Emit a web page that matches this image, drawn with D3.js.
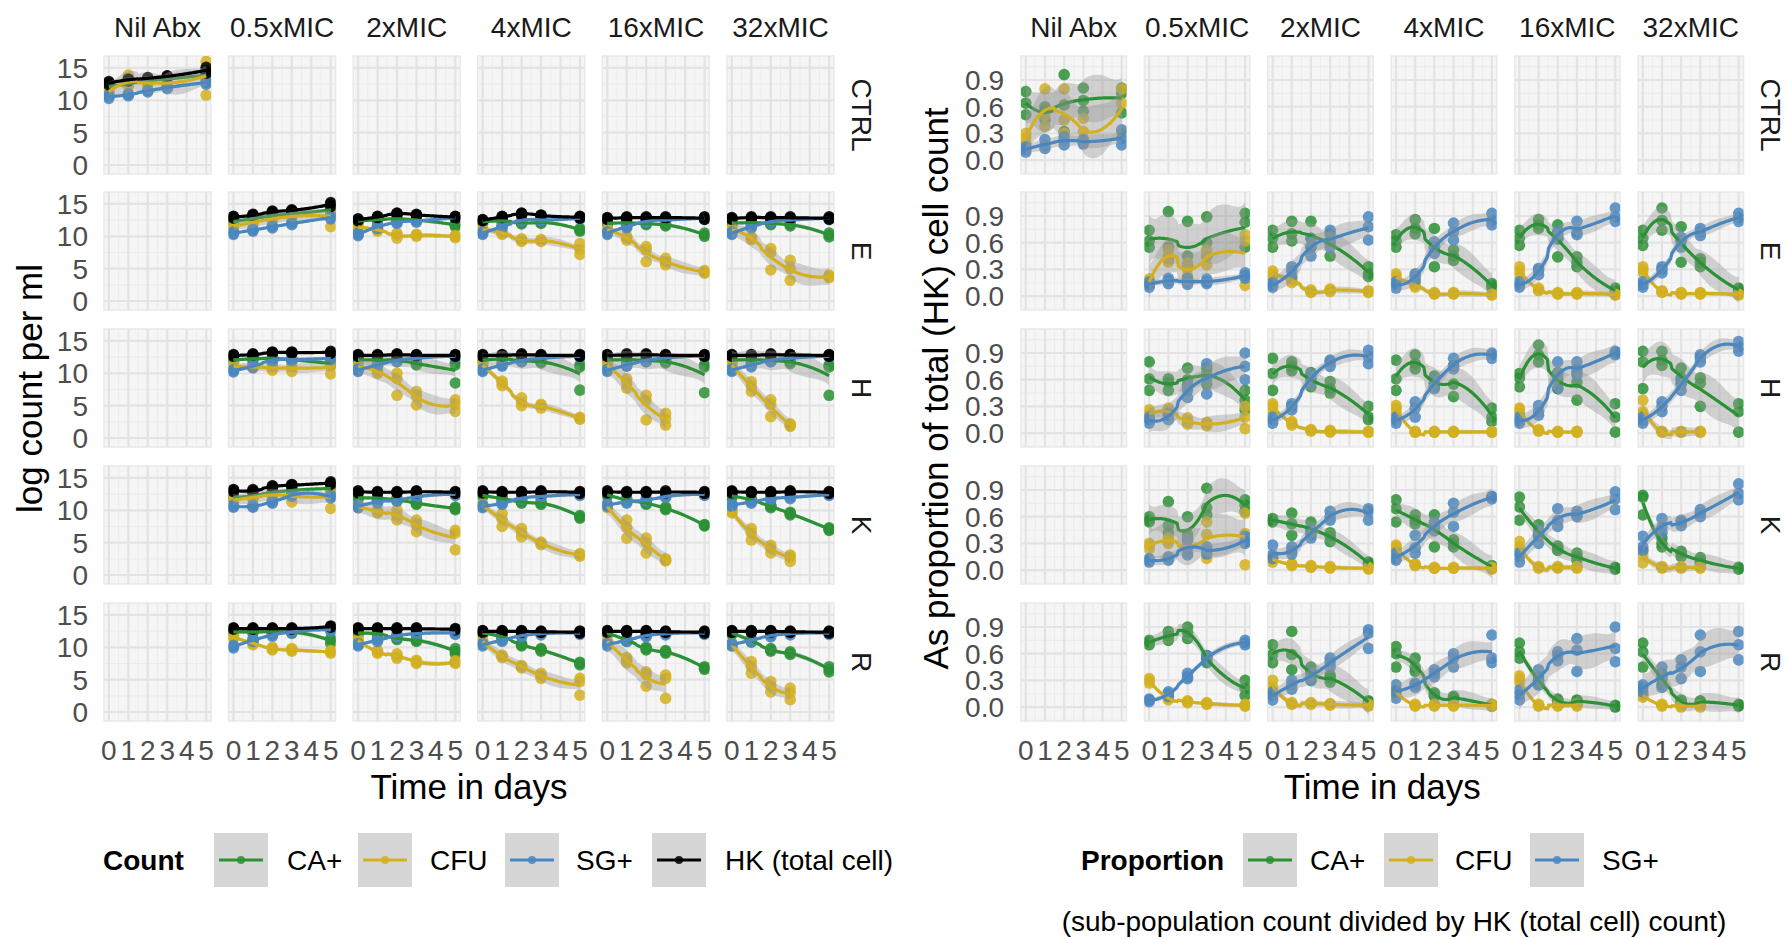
<!DOCTYPE html>
<html>
<head>
<meta charset="utf-8">
<script src="https://cdn.jsdelivr.net/npm/d3@7"></script>
<style>
  body { margin: 0; background: #ffffff; }
  text { font-family: "Liberation Sans", Arial, sans-serif; }
</style>
</head>
<body>
<svg id="chart" width="1788" height="939"></svg>
<script>
// ---------- categories and ticks ----------
const days = [0, 1, 2, 3, 5];
const doses = ["Nil Abx", "0.5xMIC", "2xMIC", "4xMIC", "16xMIC", "32xMIC"];
const strains = ["CTRL", "E", "H", "K", "R"];
const dayTicks = [0, 1, 2, 3, 4, 5];
const countTicks = [0, 5, 10, 15];
const propTicks = [0, 0.3, 0.6, 0.9];
const countKeys = ["CA+", "CFU", "SG+", "HK (total cell)"];
const propKeys = ["CA+", "CFU", "SG+"];

// ---------- log count per ml: per strain, per dose, replicate values per day (0,1,2,3,5) ----------
const countCA_CTRL = [[[11.8,12.1,12.3],[12.4,12.7,12.6],[12.9,13.1,13.0],[13.2,13.4,13.3],[13.6,13.9,14.1]], null, null, null, null, null];
const countCFU_CTRL = [[[11.0,11.4,11.6],[12.2,13.9,12.4],[12.6,12.9,12.5],[12.0,13.2,12.8],[10.8,14.5,16.0]], null, null, null, null, null];
const countSG_CTRL = [[[10.3,10.6,10.8],[10.7,10.9,11.0],[11.3,11.5,11.6],[11.8,12.0,12.1],[12.5,12.7,13.0]], null, null, null, null, null];
const countHK_CTRL = [[[12.4,12.7,12.9],[13.0,13.2,13.3],[13.3,13.5,13.4],[13.6,13.8,13.7],[14.2,14.6,15.1]], null, null, null, null, null];

const countCA_E = [null,
  [[12.0,12.3,12.5],[12.5,12.8,12.9],[13.0,13.2,13.3],[13.3,13.5,13.6],[13.8,14.1,14.3]],
  [[12.2,12.4,12.5],[12.4,12.6,12.7],[12.6,12.8,12.7],[12.4,12.6,12.5],[11.5,11.8,12.0]],
  [[12.0,12.3,12.4],[12.2,12.4,12.5],[11.9,12.1,12.2],[12.0,12.2,12.3],[10.8,11.0,11.2]],
  [[11.8,12.0,12.2],[11.9,12.1,12.2],[11.8,12.0,12.1],[11.6,11.8,11.9],[10.0,10.2,10.5]],
  [[11.8,12.1,12.2],[11.9,12.1,12.3],[11.8,12.0,12.2],[11.6,11.8,12.0],[9.9,10.2,10.5]]];
const countCFU_E = [null,
  [[11.3,11.6,11.8],[11.9,12.2,12.4],[12.5,12.7,12.9],[12.9,13.1,13.2],[11.5,13.6,14.2]],
  [[11.2,11.5,11.6],[10.8,11.0,11.2],[9.7,10.2,10.5],[10.0,10.2,10.3],[9.8,10.0,10.1]],
  [[10.8,11.0,11.3],[10.3,10.5,10.7],[9.2,9.4,9.6],[9.2,9.4,9.5],[7.2,8.0,8.9]],
  [[10.8,11.0,11.2],[9.4,9.8,10.0],[6.1,7.9,8.4],[5.6,6.1,6.6],[4.3,4.5,4.7]],
  [[10.8,11.0,11.2],[9.5,9.7,9.9],[4.8,7.5,8.1],[3.2,5.0,6.3],[3.6,3.8,4.0]]];
const countSG_E = [null,
  [[10.3,10.5,10.7],[10.8,11.0,11.1],[11.3,11.5,11.6],[11.8,12.0,12.1],[12.7,12.9,13.1]],
  [[10.1,10.3,10.5],[11.2,11.5,11.7],[12.0,12.2,12.3],[12.2,12.4,12.5],[12.8,12.9,13.0]],
  [[10.3,10.5,10.7],[11.3,11.5,11.7],[12.3,12.5,12.6],[12.4,12.5,12.6],[12.7,12.8,12.9]],
  [[10.3,10.5,10.7],[11.3,11.5,11.7],[12.2,12.3,12.4],[12.4,12.5,12.6],[12.7,12.8,12.9]],
  [[10.3,10.5,10.7],[11.3,11.5,11.6],[12.1,12.3,12.4],[12.4,12.5,12.6],[12.7,12.8,12.9]]];
const countHK_E = [null,
  [[12.8,13.0,13.1],[13.1,13.3,13.4],[13.6,13.8,13.9],[13.9,14.0,14.1],[14.6,15.0,15.2]],
  [[12.4,12.6,12.7],[12.9,13.0,13.1],[13.4,13.5,13.6],[13.2,13.4,13.3],[12.8,13.0,13.1]],
  [[12.4,12.6,12.5],[12.9,13.0,13.1],[13.3,13.5,13.6],[13.1,13.3,13.2],[12.8,13.0,13.1]],
  [[12.6,12.8,12.9],[12.7,12.9,13.0],[12.8,12.9,13.0],[12.8,12.9,13.0],[12.6,12.8,13.0]],
  [[12.6,12.8,12.9],[12.8,12.9,13.0],[12.8,13.0,12.9],[12.7,12.9,13.0],[12.6,12.8,13.0]]];

const countCA_H = [null,
  [[11.8,12.1,12.3],[12.0,12.3,12.4],[12.1,12.3,12.5],[11.9,12.1,12.3],[11.2,11.5,11.8]],
  [[11.9,12.1,12.3],[11.9,12.1,12.2],[11.8,12.0,12.2],[11.3,11.5,11.7],[8.5,11.3,11.6]],
  [[11.8,12.0,12.2],[12.0,12.2,12.4],[11.8,12.0,12.1],[11.6,11.8,12.0],[7.4,11.0,11.3]],
  [[11.8,12.1,12.2],[11.9,12.1,12.3],[11.8,12.0,12.2],[11.6,11.8,12.0],[7.0,11.0,11.3]],
  [[11.8,12.1,12.2],[11.9,12.1,12.3],[11.8,12.0,12.2],[11.5,11.8,12.0],[6.6,11.0,11.3]]];
const countCFU_H = [null,
  [[10.8,11.0,11.5],[10.8,11.0,11.1],[10.5,10.8,11.2],[10.3,10.9,11.2],[9.9,11.2,11.6]],
  [[10.8,11.0,11.2],[10.0,10.3,10.5],[6.6,9.2,10.0],[5.1,6.5,7.2],[4.1,5.2,5.9]],
  [[11.0,11.3,11.5],[8.1,8.5,8.8],[5.0,5.5,6.2],[4.6,5.0,5.2],[2.9,3.0,3.2]],
  [[11.0,11.3,11.5],[7.7,8.5,9.2],[2.8,5.8,6.6],[2.0,3.0,3.8],[]],
  [[11.0,11.3,11.5],[7.2,8.0,8.7],[3.3,5.2,5.9],[1.8,2.0,2.2],[]]];
const countSG_H = [null,
  [[10.2,10.4,10.6],[10.9,11.1,11.3],[11.8,12.0,12.2],[11.9,12.1,12.3],[12.1,12.3,12.5]],
  [[10.3,10.5,10.7],[11.1,11.3,11.5],[11.8,12.0,12.2],[12.2,12.3,12.5],[12.5,12.6,12.8]],
  [[10.3,10.5,10.7],[11.1,11.3,11.4],[11.8,12.0,12.1],[12.2,12.3,12.4],[12.5,12.6,12.8]],
  [[10.3,10.5,10.6],[11.1,11.2,11.5],[11.8,12.0,12.2],[12.2,12.4,12.5],[12.5,12.7,12.8]],
  [[10.3,10.5,10.7],[11.0,11.3,11.5],[11.8,12.0,12.2],[12.2,12.3,12.5],[12.5,12.6,12.8]]];
const countHK_H = [null,
  [[12.6,12.8,12.9],[12.8,12.9,13.0],[13.1,13.2,13.3],[13.1,13.2,13.3],[13.1,13.2,13.4]],
  [[12.6,12.8,12.9],[12.7,12.8,12.9],[12.7,12.9,13.0],[12.7,12.8,12.9],[12.6,12.8,12.9]],
  [[12.6,12.8,12.9],[12.7,12.8,12.9],[12.7,12.9,13.0],[12.7,12.8,12.9],[12.6,12.8,12.9]],
  [[12.6,12.8,12.9],[12.7,12.8,13.0],[12.7,12.9,13.0],[12.7,12.8,12.9],[12.6,12.8,12.9]],
  [[12.6,12.8,12.9],[12.7,12.8,12.9],[12.7,12.9,13.0],[12.7,12.9,12.9],[12.6,12.8,12.9]]];

const countCA_K = [null,
  [[11.8,12.0,12.2],[12.0,12.3,12.4],[12.6,12.8,12.9],[12.9,13.1,13.2],[13.2,13.4,13.5]],
  [[11.7,11.9,12.1],[11.7,11.9,12.0],[11.4,11.6,11.8],[10.9,11.1,11.3],[10.1,10.3,10.5]],
  [[12.1,12.3,12.5],[11.6,11.8,12.0],[11.1,11.3,11.5],[10.9,11.1,11.3],[8.8,9.0,9.2]],
  [[12.2,12.4,12.6],[11.4,11.6,11.8],[10.9,11.1,11.3],[10.1,10.3,10.5],[7.6,7.7,7.8]],
  [[12.0,12.2,12.4],[11.4,11.6,11.8],[10.4,10.6,10.8],[9.3,9.5,9.7],[6.9,7.1,7.3]]];
const countCFU_K = [null,
  [[11.3,11.6,11.8],[11.8,12.0,12.2],[12.2,12.4,12.5],[11.3,12.5,12.7],[10.3,12.8,13.0]],
  [[10.4,10.6,10.8],[9.6,9.8,10.0],[8.5,9.2,10.0],[6.7,7.8,8.5],[3.9,6.5,6.9]],
  [[10.6,10.8,11.0],[7.5,8.6,9.5],[5.9,6.6,7.2],[4.7,4.9,5.1],[2.9,3.1,3.3]],
  [[10.4,10.6,10.8],[5.7,7.4,8.5],[3.4,5.0,5.7],[2.2,2.3,2.5],[]],
  [[9.6,9.8,10.0],[5.4,6.5,7.2],[3.4,4.2,4.6],[2.1,2.8,3.1],[]]];
const countSG_K = [null,
  [[10.5,10.6,10.8],[10.5,10.6,10.8],[11.1,11.3,11.5],[12.2,12.4,12.5],[11.9,12.1,12.3]],
  [[10.4,10.6,10.8],[11.1,11.3,11.5],[11.4,11.6,11.8],[11.9,12.1,12.3],[12.3,12.5,12.6]],
  [[10.4,10.6,10.8],[10.9,11.1,11.3],[11.7,11.9,12.0],[12.0,12.1,12.3],[12.3,12.4,12.6]],
  [[10.6,10.8,11.0],[11.1,11.3,11.5],[11.4,11.6,11.8],[12.0,12.1,12.3],[12.3,12.4,12.6]],
  [[10.6,10.8,11.0],[11.1,11.3,11.5],[11.6,11.8,12.0],[11.8,12.0,12.2],[12.3,12.4,12.6]]];
const countHK_K = [null,
  [[12.9,13.1,13.2],[12.9,13.0,13.2],[13.5,13.7,13.8],[13.7,13.9,14.0],[14.0,14.2,14.4]],
  [[12.7,12.9,13.0],[12.7,12.8,12.9],[12.7,12.8,12.9],[12.7,12.9,13.0],[12.6,12.8,12.9]],
  [[12.7,12.9,13.0],[12.7,12.8,12.9],[12.7,12.8,12.9],[12.7,12.9,13.0],[12.6,12.8,12.9]],
  [[12.7,12.9,13.0],[12.7,12.8,12.9],[12.7,12.8,12.9],[12.7,12.8,13.0],[12.6,12.8,12.9]],
  [[12.7,12.9,13.0],[12.7,12.8,12.9],[12.7,12.8,12.9],[12.7,12.9,13.0],[12.6,12.8,12.9]]];

const countCA_R = [null,
  [[12.2,12.4,12.6],[12.2,12.4,12.6],[12.2,12.4,12.6],[12.2,12.4,12.5],[10.6,11.1,11.4]],
  [[12.0,12.2,12.3],[11.9,12.1,12.2],[11.2,11.4,11.6],[10.9,11.1,11.3],[9.0,9.4,9.8]],
  [[12.0,12.2,12.4],[11.4,11.6,11.8],[10.2,10.4,10.6],[9.4,9.6,9.8],[7.3,7.5,7.7]],
  [[12.0,12.2,12.4],[10.9,11.1,11.3],[9.6,9.8,10.0],[9.1,9.3,9.5],[6.6,6.8,7.0]],
  [[12.0,12.2,12.4],[10.8,11.0,11.2],[9.4,9.6,9.8],[8.9,9.1,9.3],[6.2,6.6,7.0]]];
const countCFU_R = [null,
  [[11.4,11.6,11.8],[10.4,10.6,10.8],[9.6,9.8,10.0],[9.4,9.6,9.8],[9.1,9.3,9.5]],
  [[10.9,11.1,11.3],[9.1,9.3,9.5],[8.3,8.6,9.0],[7.5,7.8,8.0],[7.5,7.7,7.9]],
  [[10.7,10.9,11.1],[8.4,8.6,8.8],[6.8,7.0,7.2],[5.2,5.6,6.0],[2.6,4.7,5.2]],
  [[10.7,10.9,11.1],[7.6,8.0,8.4],[4.0,5.8,6.2],[2.1,5.2,5.7],[]],
  [[10.2,10.4,10.6],[6.0,7.0,7.8],[3.1,4.0,4.7],[1.9,3.0,3.7],[]]];
const countSG_R = [null,
  [[9.9,10.1,10.3],[10.9,11.1,11.3],[11.7,11.9,12.1],[12.2,12.4,12.6],[12.5,12.7,12.9]],
  [[10.2,10.4,10.6],[10.9,11.1,11.3],[11.6,11.8,12.0],[11.9,12.1,12.3],[12.0,12.2,12.4]],
  [[10.2,10.4,10.6],[10.9,11.1,11.3],[11.6,11.8,12.0],[11.9,12.1,12.3],[12.0,12.2,12.4]],
  [[10.2,10.4,10.6],[10.9,11.1,11.3],[11.6,11.8,12.0],[11.9,12.1,12.3],[12.0,12.2,12.4]],
  [[10.2,10.4,10.6],[10.9,11.1,11.3],[11.6,11.8,12.0],[11.9,12.1,12.3],[12.0,12.2,12.4]]];
const countHK_R = [null,
  [[12.8,12.9,13.0],[12.8,12.9,13.0],[12.8,12.9,13.0],[12.8,12.9,13.0],[13.1,13.2,13.3]],
  [[12.7,12.9,13.0],[12.8,12.9,13.0],[12.8,12.9,13.0],[12.7,12.9,13.0],[12.7,12.8,12.9]],
  [[12.3,12.5,12.6],[12.3,12.5,12.6],[12.3,12.5,12.6],[12.3,12.4,12.5],[12.2,12.4,12.5]],
  [[12.3,12.5,12.6],[12.3,12.5,12.6],[12.3,12.5,12.6],[12.3,12.4,12.5],[12.2,12.4,12.5]],
  [[12.3,12.5,12.6],[12.3,12.5,12.6],[12.3,12.5,12.6],[12.3,12.4,12.5],[12.2,12.4,12.5]]];

// ---------- proportion of HK (total cell) count ----------
const propCA_CTRL = [[[0.51,0.64,0.77],[0.45,0.56,0.60],[0.32,0.62,0.96],[0.55,0.67,0.81],[0.53,0.75,0.81]], null, null, null, null, null];
const propCFU_CTRL = [[[0.19,0.25,0.30],[0.38,0.50,0.80],[0.30,0.45,0.80],[0.20,0.32,0.47],[0.30,0.64,0.80]], null, null, null, null, null];
const propSG_CTRL = [[[0.09,0.12,0.15],[0.13,0.17,0.23],[0.17,0.22,0.26],[0.18,0.21,0.23],[0.17,0.24,0.34]], null, null, null, null, null];

const propCA_E = [null,
  [[0.55,0.62,0.74],[0.42,0.55,0.95],[0.35,0.45,0.84],[0.45,0.60,0.89],[0.55,0.83,0.93]],
  [[0.55,0.65,0.74],[0.62,0.70,0.84],[0.55,0.65,0.84],[0.45,0.60,0.70],[0.22,0.25,0.33]],
  [[0.55,0.62,0.69],[0.70,0.76,0.86],[0.33,0.55,0.76],[0.40,0.45,0.52],[0.09,0.12,0.14]],
  [[0.57,0.65,0.74],[0.76,0.80,0.86],[0.44,0.65,0.80],[0.33,0.38,0.44],[0.04,0.06,0.09]],
  [[0.57,0.65,0.74],[0.74,0.85,0.99],[0.38,0.62,0.78],[0.33,0.38,0.42],[0.05,0.07,0.09]]];
const propCFU_E = [null,
  [[0.12,0.16,0.19],[0.38,0.45,0.52],[0.22,0.30,0.37],[0.35,0.45,0.52],[0.12,0.62,0.69]],
  [[0.20,0.25,0.28],[0.15,0.18,0.20],[0.04,0.05,0.07],[0.05,0.07,0.08],[0.04,0.05,0.06]],
  [[0.16,0.22,0.25],[0.10,0.12,0.14],[0.02,0.03,0.04],[0.02,0.03,0.04],[0.01,0.02,0.02]],
  [[0.24,0.29,0.33],[0.06,0.07,0.09],[0.02,0.03,0.04],[0.02,0.03,0.04],[0.01,0.02,0.02]],
  [[0.27,0.30,0.33],[0.04,0.05,0.06],[0.02,0.03,0.04],[0.02,0.03,0.04],[0.01,0.02,0.02]]];
const propSG_E = [null,
  [[0.10,0.13,0.16],[0.14,0.17,0.20],[0.13,0.16,0.20],[0.14,0.16,0.19],[0.20,0.23,0.26]],
  [[0.10,0.12,0.15],[0.22,0.28,0.33],[0.45,0.55,0.65],[0.55,0.62,0.74],[0.63,0.78,0.89]],
  [[0.09,0.13,0.16],[0.18,0.22,0.25],[0.48,0.55,0.61],[0.63,0.72,0.82],[0.80,0.85,0.93]],
  [[0.10,0.13,0.16],[0.24,0.29,0.31],[0.64,0.70,0.73],[0.69,0.72,0.84],[0.84,0.89,0.99]],
  [[0.10,0.13,0.16],[0.26,0.30,0.33],[0.55,0.62,0.66],[0.68,0.72,0.76],[0.84,0.88,0.93]]];

const propCA_H = [null,
  [[0.48,0.61,0.80],[0.48,0.57,0.61],[0.52,0.60,0.73],[0.55,0.67,0.73],[0.26,0.37,0.48]],
  [[0.48,0.67,0.84],[0.70,0.75,0.80],[0.52,0.60,0.68],[0.45,0.50,0.58],[0.15,0.18,0.30]],
  [[0.48,0.61,0.82],[0.72,0.78,0.88],[0.52,0.56,0.64],[0.41,0.55,0.76],[0.13,0.18,0.28]],
  [[0.52,0.62,0.67],[0.80,0.88,0.99],[0.50,0.60,0.68],[0.37,0.57,0.68],[0.01,0.18,0.33]],
  [[0.50,0.80,0.92],[0.76,0.82,0.92],[0.56,0.62,0.73],[0.30,0.56,0.62],[0.01,0.24,0.33]]];
const propCFU_H = [null,
  [[0.17,0.22,0.26],[0.20,0.24,0.28],[0.10,0.13,0.17],[0.08,0.11,0.12],[0.05,0.18,0.30]],
  [[0.26,0.30,0.33],[0.09,0.11,0.13],[0.02,0.03,0.04],[0.01,0.02,0.03],[0.01,0.01,0.02]],
  [[0.24,0.28,0.31],[0.01,0.01,0.02],[0.01,0.01,0.02],[0.01,0.01,0.02],[0.01,0.01,0.02]],
  [[0.22,0.26,0.28],[0.02,0.03,0.04],[0.01,0.01,0.02],[0.01,0.01,0.02],[]],
  [[0.21,0.24,0.37],[0.01,0.01,0.02],[0.01,0.01,0.02],[0.01,0.01,0.02],[]]];
const propSG_H = [null,
  [[0.11,0.15,0.18],[0.15,0.20,0.22],[0.40,0.48,0.55],[0.44,0.62,0.78],[0.60,0.75,0.90]],
  [[0.11,0.15,0.18],[0.26,0.30,0.33],[0.56,0.62,0.66],[0.75,0.80,0.82],[0.78,0.86,0.93]],
  [[0.11,0.15,0.18],[0.18,0.28,0.35],[0.50,0.56,0.60],[0.72,0.75,0.84],[0.84,0.88,0.90]],
  [[0.11,0.14,0.18],[0.20,0.24,0.31],[0.50,0.66,0.80],[0.65,0.72,0.80],[0.88,0.90,0.92]],
  [[0.11,0.15,0.18],[0.24,0.30,0.35],[0.48,0.55,0.60],[0.80,0.85,0.88],[0.92,0.97,1.03]]];

const propCA_K = [null,
  [[0.54,0.56,0.60],[0.42,0.50,0.77],[0.35,0.40,0.60],[0.62,0.70,0.92],[0.66,0.73,0.79]],
  [[0.54,0.56,0.58],[0.39,0.52,0.64],[0.40,0.45,0.54],[0.32,0.38,0.42],[0.06,0.08,0.09]],
  [[0.54,0.69,0.79],[0.52,0.56,0.62],[0.26,0.48,0.62],[0.26,0.30,0.34],[0.02,0.04,0.05]],
  [[0.56,0.71,0.82],[0.38,0.41,0.51],[0.22,0.24,0.27],[0.11,0.15,0.19],[0.01,0.02,0.03]],
  [[0.62,0.82,0.84],[0.26,0.30,0.36],[0.15,0.19,0.21],[0.08,0.11,0.14],[0.01,0.02,0.03]]];
const propCFU_K = [null,
  [[0.24,0.28,0.30],[0.30,0.33,0.36],[0.20,0.25,0.34],[0.13,0.40,0.54],[0.06,0.41,0.64]],
  [[0.09,0.12,0.15],[0.05,0.06,0.07],[0.03,0.04,0.05],[0.02,0.03,0.04],[0.01,0.02,0.03]],
  [[0.22,0.26,0.28],[0.05,0.06,0.07],[0.02,0.02,0.03],[0.02,0.02,0.03],[0.01,0.02,0.03]],
  [[0.22,0.26,0.32],[0.02,0.03,0.04],[0.02,0.03,0.04],[0.02,0.03,0.04],[]],
  [[0.08,0.17,0.22],[0.02,0.03,0.04],[0.02,0.03,0.04],[0.02,0.03,0.04],[]]];
const propSG_K = [null,
  [[0.09,0.11,0.13],[0.11,0.13,0.15],[0.17,0.25,0.34],[0.18,0.22,0.26],[0.30,0.32,0.38]],
  [[0.13,0.17,0.28],[0.18,0.22,0.26],[0.36,0.42,0.46],[0.56,0.60,0.66],[0.56,0.66,0.69]],
  [[0.11,0.13,0.19],[0.19,0.25,0.39],[0.44,0.50,0.54],[0.49,0.65,0.75],[0.80,0.82,0.83]],
  [[0.09,0.15,0.19],[0.30,0.39,0.45],[0.49,0.56,0.69],[0.60,0.62,0.66],[0.68,0.80,0.88]],
  [[0.22,0.26,0.38],[0.42,0.48,0.58],[0.50,0.54,0.56],[0.60,0.64,0.68],[0.79,0.86,0.97]]];

const propCA_R = [null,
  [[0.70,0.73,0.75],[0.75,0.80,0.85],[0.77,0.84,0.90],[0.50,0.55,0.58],[0.13,0.21,0.30]],
  [[0.50,0.59,0.70],[0.42,0.59,0.85],[0.30,0.40,0.45],[0.28,0.33,0.36],[0.04,0.06,0.07]],
  [[0.45,0.60,0.68],[0.40,0.45,0.55],[0.12,0.14,0.16],[0.09,0.11,0.12],[0.01,0.02,0.03]],
  [[0.55,0.62,0.72],[0.25,0.30,0.34],[0.06,0.07,0.09],[0.05,0.07,0.08],[0.00,0.01,0.02]],
  [[0.45,0.62,0.72],[0.25,0.32,0.38],[0.05,0.06,0.08],[0.05,0.06,0.07],[0.01,0.02,0.03]]];
const propCFU_R = [null,
  [[0.27,0.30,0.32],[0.08,0.10,0.12],[0.05,0.06,0.07],[0.03,0.04,0.05],[0.01,0.02,0.03]],
  [[0.18,0.23,0.30],[0.03,0.04,0.05],[0.03,0.04,0.05],[0.02,0.03,0.04],[0.01,0.02,0.03]],
  [[0.15,0.17,0.19],[0.01,0.02,0.03],[0.01,0.02,0.03],[0.01,0.02,0.03],[0.01,0.02,0.03]],
  [[0.28,0.32,0.35],[0.01,0.02,0.03],[0.01,0.02,0.03],[0.01,0.02,0.03],[]],
  [[0.11,0.13,0.15],[0.01,0.02,0.03],[0.00,0.01,0.02],[0.00,0.01,0.02],[]]];
const propSG_R = [null,
  [[0.06,0.08,0.09],[0.12,0.15,0.17],[0.32,0.34,0.38],[0.52,0.55,0.58],[0.70,0.72,0.75]],
  [[0.08,0.13,0.17],[0.20,0.25,0.30],[0.30,0.35,0.40],[0.45,0.50,0.55],[0.66,0.83,0.87]],
  [[0.10,0.18,0.25],[0.22,0.25,0.27],[0.34,0.38,0.42],[0.45,0.55,0.60],[0.50,0.55,0.81]],
  [[0.08,0.14,0.19],[0.25,0.30,0.42],[0.52,0.58,0.62],[0.40,0.64,0.77],[0.51,0.66,0.90]],
  [[0.17,0.22,0.25],[0.22,0.35,0.45],[0.32,0.45,0.53],[0.40,0.62,0.81],[0.53,0.70,0.85]]];

// ---------- series tables built from the arrays above ----------
const seriesColor = { "CA+": "#2a9134", "CFU": "#d4b01e", "SG+": "#4a87bf", "HK (total cell)": "#000000" };
const countSeries = [
  { key: "CA+", rows: [countCA_CTRL, countCA_E, countCA_H, countCA_K, countCA_R] },
  { key: "CFU", rows: [countCFU_CTRL, countCFU_E, countCFU_H, countCFU_K, countCFU_R] },
  { key: "SG+", rows: [countSG_CTRL, countSG_E, countSG_H, countSG_K, countSG_R] },
  { key: "HK (total cell)", rows: [countHK_CTRL, countHK_E, countHK_H, countHK_K, countHK_R] }
];
const propSeries = [
  { key: "CA+", rows: [propCA_CTRL, propCA_E, propCA_H, propCA_K, propCA_R] },
  { key: "CFU", rows: [propCFU_CTRL, propCFU_E, propCFU_H, propCFU_K, propCFU_R] },
  { key: "SG+", rows: [propSG_CTRL, propSG_E, propSG_H, propSG_K, propSG_R] }
];

// ---------- loess smoother (span 0.75, local quadratic) with 95% band ----------
function qt975(df) {
  const z = 1.959964;
  if (!isFinite(df) || df > 1e6) return z;
  df = Math.max(df, 1);
  const z2 = z * z;
  const g1 = (z2 * z + z) / 4;
  const g2 = (5 * Math.pow(z, 5) + 16 * z2 * z + 3 * z) / 96;
  const g3 = (3 * Math.pow(z, 7) + 19 * Math.pow(z, 5) + 17 * z2 * z - 15 * z) / 384;
  const g4 = (79 * Math.pow(z, 9) + 776 * Math.pow(z, 7) + 1482 * Math.pow(z, 5) - 1920 * z2 * z - 945 * z) / 92160;
  return z + g1 / df + g2 / (df * df) + g3 / Math.pow(df, 3) + g4 / Math.pow(df, 4);
}

function solve(A, b) {
  const n = A.length;
  const M = A.map((r, i) => r.concat([b[i]]));
  for (let c = 0; c < n; c++) {
    let piv = c;
    for (let r = c + 1; r < n; r++) if (Math.abs(M[r][c]) > Math.abs(M[piv][c])) piv = r;
    [M[c], M[piv]] = [M[piv], M[c]];
    const d = M[c][c] || 1e-12;
    for (let r = 0; r < n; r++) {
      if (r === c) continue;
      const f = M[r][c] / d;
      for (let k = c; k <= n; k++) M[r][k] -= f * M[c][k];
    }
  }
  return M.map((r, i) => r[n] / (M[i][i] || 1e-12));
}

function loessBand(xs, ys, span, nOut) {
  const n = xs.length;
  const distinct = new Set(xs).size;
  const deg = distinct >= 3 ? 2 : 1;
  const p = deg + 1;
  const q = Math.min(n, Math.max(p, Math.floor(n * span)));

  function weightsAt(x0) {
    const d = xs.map(x => Math.abs(x - x0));
    const sorted = d.slice().sort((a, b) => a - b);
    const levels = Array.from(new Set(sorted));
    const inside = h => new Set(xs.filter((x, i) => d[i] < h)).size;
    let h = sorted[q - 1];
    let k = levels.indexOf(h);
    while (inside(h) < p && k < levels.length - 1) { k++; h = levels[k]; }
    if (inside(h) < p) h = levels[levels.length - 1] * 1.05 + 1e-6;
    return d.map(di => di < h ? Math.pow(1 - Math.pow(di / h, 3), 3) : 0);
  }
  // operator row l(x0): fitted value at x0 = sum l_i * y_i
  function lvec(x0) {
    const w = weightsAt(x0);
    const basis = xs.map(x => { const u = x - x0; return [1, u, u * u].slice(0, p); });
    const A = Array.from({ length: p }, () => new Array(p).fill(0));
    basis.forEach((b, i) => {
      for (let r = 0; r < p; r++) for (let c = 0; c < p; c++) A[r][c] += w[i] * b[r] * b[c];
    });
    const e = new Array(p).fill(0); e[0] = 1;
    const a = solve(A, e); // first row of A^-1 (A symmetric)
    return basis.map((b, i) => w[i] * b.reduce((s, v, j) => s + v * a[j], 0));
  }
  const dot = (l, v) => l.reduce((s, li, i) => s + li * v[i], 0);
  const L = xs.map(x => lvec(x));
  const fitted = L.map(l => dot(l, ys));
  const rss = ys.reduce((s, y, i) => s + (y - fitted[i]) ** 2, 0);
  // B = I - L, M = B^T B
  const B = L.map((row, i) => row.map((v, j) => (i === j ? 1 : 0) - v));
  const M = Array.from({ length: n }, (_, i) => Array.from({ length: n }, (_, j) => {
    let s = 0; for (let k = 0; k < n; k++) s += B[k][i] * B[k][j]; return s;
  }));
  let d1 = 0, d2 = 0;
  for (let i = 0; i < n; i++) { d1 += M[i][i]; for (let j = 0; j < n; j++) d2 += M[i][j] * M[j][i]; }
  const sigma = d1 > 1e-9 ? Math.sqrt(rss / d1) : 0;
  const tq = d2 > 1e-12 ? qt975(d1 * d1 / d2) : 1.96;
  const lo = d3.min(xs), hi = d3.max(xs);
  return d3.range(nOut).map(i => {
    const x = lo + (hi - lo) * i / (nOut - 1);
    const l = lvec(x);
    const f = dot(l, ys);
    const se = sigma * Math.sqrt(l.reduce((s, v) => s + v * v, 0));
    return { x, y: f, lo: f - tq * se, hi: f + tq * se };
  });
}

// ---------- layout ----------
const svg = d3.select("#chart");
const rowTop = [56, 192, 329, 466, 603];
const panelH = 118;
const FONT_TICK = 28, FONT_STRIP = 28, FONT_TITLE = 35, FONT_LEGEND = 28;

const charts = [
  {
    series: countSeries, colX0: 104, colStep: 124.6, panelW: 107,
    yDomain: [-1.39, 16.85], yTicks: countTicks, yMinor: [2.5, 7.5, 12.5], fmt: d3.format("d"),
    tickRight: 88, rowLabelX: 852, yTitle: "log count per ml", yTitleX: 42,
    clipId: "c"
  },
  {
    series: propSeries, colX0: 1021, colStep: 123.4, panelW: 105.5,
    yDomain: [-0.157, 1.17], yTicks: propTicks, yMinor: [-0.15, 0.15, 0.45, 0.75, 1.05], fmt: d3.format(".1f"),
    tickRight: 1004, rowLabelX: 1761, yTitle: "As proportion of total (HK) cell count", yTitleX: 948,
    clipId: "p"
  }
];

const defs = svg.append("defs");

charts.forEach(ch => {
  const g = svg.append("g");
  const xMinor = [0.5, 1.5, 2.5, 3.5, 4.5];

  // column strip labels
  doses.forEach((dose, c) => {
    const x0 = ch.colX0 + c * ch.colStep;
    g.append("text").attr("x", x0 + ch.panelW / 2).attr("y", 37)
      .attr("text-anchor", "middle").attr("font-size", FONT_STRIP).attr("fill", "#1a1a1a").text(dose);
  });

  strains.forEach((strain, r) => {
    const top = rowTop[r];
    const y = d3.scaleLinear().domain(ch.yDomain).range([top + panelH, top]);
    const cy = top + panelH / 2;

    // row strip label, reading top to bottom
    g.append("text")
      .attr("x", ch.rowLabelX).attr("y", cy)
      .attr("transform", `rotate(90,${ch.rowLabelX},${cy})`)
      .attr("text-anchor", "middle")
      .attr("font-size", FONT_STRIP).attr("fill", "#1a1a1a").text(strain);

    // y tick labels on the first column
    ch.yTicks.forEach(t => {
      g.append("text").attr("x", ch.tickRight).attr("y", y(t)).attr("dy", "0.36em")
        .attr("text-anchor", "end").attr("font-size", FONT_TICK).attr("fill", "#4d4d4d").text(ch.fmt(t));
    });

    doses.forEach((dose, c) => {
      const x0 = ch.colX0 + c * ch.colStep;
      const x = d3.scaleLinear().domain([-0.25, 5.25]).range([x0, x0 + ch.panelW]);
      const pg = g.append("g");
      const cid = `${ch.clipId}${r}_${c}`;
      defs.append("clipPath").attr("id", cid).append("rect")
        .attr("x", x0).attr("y", top).attr("width", ch.panelW).attr("height", panelH);

      // panel background and grid
      pg.append("rect").attr("x", x0).attr("y", top).attr("width", ch.panelW).attr("height", panelH)
        .attr("fill", "#f5f5f5").attr("stroke", "#e9e9e9").attr("stroke-width", 1.5);
      xMinor.forEach(v => pg.append("line").attr("x1", x(v)).attr("x2", x(v)).attr("y1", top).attr("y2", top + panelH)
        .attr("stroke", "#ececec").attr("stroke-width", 1.1));
      ch.yMinor.forEach(v => pg.append("line").attr("x1", x0).attr("x2", x0 + ch.panelW).attr("y1", y(v)).attr("y2", y(v))
        .attr("stroke", "#ececec").attr("stroke-width", 1.1));
      dayTicks.forEach(v => pg.append("line").attr("x1", x(v)).attr("x2", x(v)).attr("y1", top).attr("y2", top + panelH)
        .attr("stroke", "#e3e3e3").attr("stroke-width", 2.2));
      ch.yTicks.forEach(v => pg.append("line").attr("x1", x0).attr("x2", x0 + ch.panelW).attr("y1", y(v)).attr("y2", y(v))
        .attr("stroke", "#e3e3e3").attr("stroke-width", 2.2));

      // x tick labels under the bottom row
      if (r === strains.length - 1) {
        dayTicks.forEach(t => {
          g.append("text").attr("x", x(t)).attr("y", 760).attr("text-anchor", "middle")
            .attr("font-size", FONT_TICK).attr("fill", "#4d4d4d").text(t);
        });
      }

      const layer = pg.append("g").attr("clip-path", `url(#${cid})`);

      // observed replicate points
      ch.series.forEach(s => {
        const panel = s.rows[r][c];
        if (!panel) return;
        panel.forEach((vals, di) => {
          vals.forEach(v => {
            layer.append("circle").attr("cx", x(days[di])).attr("cy", y(v)).attr("r", 5.8)
              .attr("fill", seriesColor[s.key]).attr("fill-opacity", 0.85);
          });
        });
      });

      // loess smooth with confidence ribbon, one group after another
      ch.series.forEach(s => {
        const panel = s.rows[r][c];
        if (!panel) return;
        const xs = [], ys = [];
        panel.forEach((vals, di) => vals.forEach(v => { xs.push(days[di]); ys.push(v); }));
        const band = loessBand(xs, ys, 0.75, 80);
        const area = d3.area().x(d => x(d.x)).y0(d => y(d.lo)).y1(d => y(d.hi));
        const line = d3.line().x(d => x(d.x)).y(d => y(d.y));
        layer.append("path").attr("d", area(band)).attr("fill", "#999999").attr("fill-opacity", 0.4);
        layer.append("path").attr("d", line(band)).attr("fill", "none")
          .attr("stroke", seriesColor[s.key]).attr("stroke-width", 3.2);
      });
    });
  });

  // axis titles
  const midX = ch.colX0 + (5 * ch.colStep + ch.panelW) / 2;
  g.append("text").attr("x", midX).attr("y", 799).attr("text-anchor", "middle")
    .attr("font-size", FONT_TITLE).attr("fill", "#000").text("Time in days");
  const midY = (rowTop[0] + rowTop[4] + panelH) / 2;
  g.append("text").attr("x", ch.yTitleX).attr("y", midY)
    .attr("transform", `rotate(-90,${ch.yTitleX},${midY})`)
    .attr("text-anchor", "middle").attr("font-size", FONT_TITLE).attr("fill", "#000").text(ch.yTitle);
});

// ---------- legends ----------
function legend(title, titleX, keys, keyXs, labelXs) {
  const g = svg.append("g");
  const cy = 860;
  g.append("text").attr("x", titleX).attr("y", cy).attr("dy", "0.35em")
    .attr("font-size", FONT_LEGEND).attr("font-weight", "bold").attr("fill", "#000").text(title);
  keys.forEach((k, i) => {
    const kx = keyXs[i];
    g.append("rect").attr("x", kx).attr("y", cy - 27).attr("width", 54).attr("height", 54).attr("fill", "#d6d6d6");
    g.append("line").attr("x1", kx + 5).attr("x2", kx + 49).attr("y1", cy).attr("y2", cy)
      .attr("stroke", seriesColor[k]).attr("stroke-width", 3.2);
    g.append("circle").attr("cx", kx + 27).attr("cy", cy).attr("r", 4).attr("fill", seriesColor[k]).attr("fill-opacity", 0.85);
    g.append("text").attr("x", labelXs[i]).attr("y", cy).attr("dy", "0.35em")
      .attr("font-size", FONT_LEGEND).attr("fill", "#000").text(k);
  });
}
legend("Count", 103, countKeys, [214, 358, 505, 652], [287, 430, 576, 725]);
legend("Proportion", 1081, propKeys, [1243, 1384, 1530], [1310, 1455, 1602]);

svg.append("text").attr("x", 1394).attr("y", 931).attr("text-anchor", "middle")
  .attr("font-size", FONT_LEGEND).attr("fill", "#000")
  .text("(sub-population count divided by HK (total cell) count)");
</script>
</body>
</html>
